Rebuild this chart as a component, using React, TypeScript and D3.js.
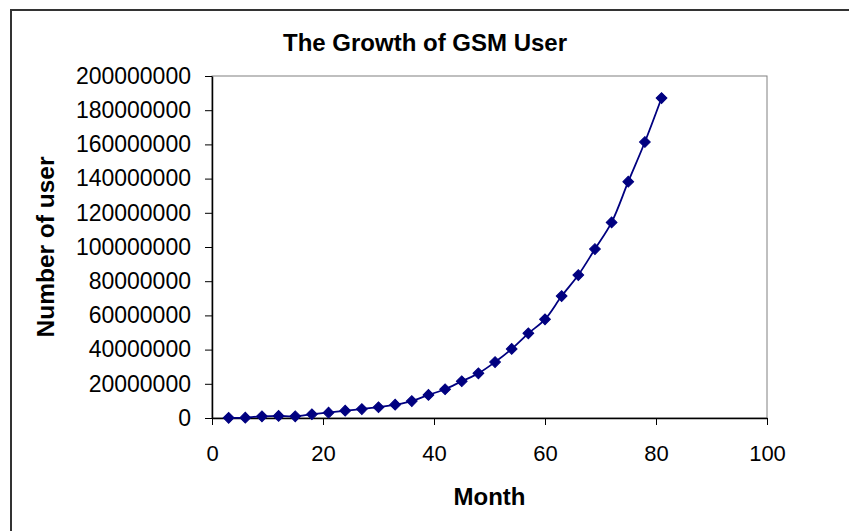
import React, { useEffect, useRef } from "react";
import * as d3 from "d3";

// Data (month -> number of GSM users)
const MONTHS = [3, 6, 9, 12, 15, 18, 21, 24, 27, 30, 33, 36, 39, 42, 45, 48, 51, 54, 57, 60, 63, 66, 69, 72, 75, 78, 81];
const USERS = [
  100000, 200000, 1000000, 1200000, 1000000, 2200000, 3100000, 4300000, 5200000,
  6300000, 7800000, 9900000, 13500000, 16800000, 21500000, 26100000, 32700000, 40400000,
  49500000, 57700000, 71300000, 83600000, 98800000, 114400000, 138200000, 161400000, 187100000,
];
const X_TICKS = [0, 20, 40, 60, 80, 100];
const Y_TICKS = [0, 20000000, 40000000, 60000000, 80000000, 100000000, 120000000, 140000000, 160000000, 180000000, 200000000];

const TITLE = "The Growth of GSM User";
const X_TITLE = "Month";
const Y_TITLE = "Number of user";

const WIDTH = 849;
const HEIGHT = 531;
const FONT = "Arial, 'Liberation Sans', sans-serif";
const NAVY = "#000080";

export default function App() {
  const svgRef = useRef<SVGSVGElement>(null);

  useEffect(() => {
    if (!svgRef.current) return;
    const svg = d3.select(svgRef.current);
    svg.selectAll("*").remove();

    const plot = { left: 212, right: 767, top: 76, bottom: 418 };

    const x = d3.scaleLinear().domain([0, 100]).range([plot.left, plot.right]);
    const y = d3.scaleLinear().domain([0, 200000000]).range([plot.bottom, plot.top]);

    // chart frame (right/bottom edges run off the picture)
    svg
      .append("rect")
      .attr("x", 11)
      .attr("y", 10)
      .attr("width", 900)
      .attr("height", 600)
      .attr("fill", "#fff")
      .attr("stroke", "#333")
      .attr("stroke-width", 2);

    // plot area border (grey)
    svg
      .append("rect")
      .attr("x", plot.left)
      .attr("y", plot.top)
      .attr("width", plot.right - plot.left)
      .attr("height", plot.bottom - plot.top)
      .attr("fill", "none")
      .attr("stroke", "#808080")
      .attr("stroke-width", 1);

    // axes
    const yAxis = d3
      .axisLeft(y)
      .tickValues(Y_TICKS)
      .tickSize(7)
      .tickSizeOuter(0)
      .tickPadding(14)
      .tickFormat(d3.format("d"));
    const xAxis = d3
      .axisBottom(x)
      .tickValues(X_TICKS)
      .tickSize(7)
      .tickSizeOuter(0)
      .tickPadding(20)
      .tickFormat(d3.format("d"));

    const gy = svg.append("g").attr("transform", `translate(${plot.left},0)`).call(yAxis);
    const gx = svg.append("g").attr("transform", `translate(0,${plot.bottom})`).call(xAxis);

    [gx, gy].forEach((g) => {
      g.select(".domain").attr("stroke", "#000").attr("stroke-width", 1.5);
      g.selectAll(".tick line").attr("stroke", "#000").attr("stroke-width", 1);
      g.selectAll(".tick text")
        .attr("fill", "#000")
        .attr("font-family", FONT);
    });
    gy.selectAll(".tick text").attr("font-size", 23);
    gx.selectAll(".tick text").attr("font-size", 22);

    // series line (smoothed like the original)
    const pts = MONTHS.map((m, i) => [m, USERS[i]] as [number, number]);
    const line = d3
      .line<[number, number]>()
      .x((d) => x(d[0]))
      .y((d) => y(d[1]))
      .curve(d3.curveCatmullRom.alpha(0.5));

    svg
      .append("path")
      .datum(pts)
      .attr("d", line)
      .attr("fill", "none")
      .attr("stroke", NAVY)
      .attr("stroke-width", 1.8);

    // diamond markers
    const diamond = d3.symbol().type(d3.symbolSquare).size(58);
    svg
      .append("g")
      .selectAll("path")
      .data(pts)
      .join("path")
      .attr("d", diamond)
      .attr("transform", (d) => `translate(${x(d[0])},${y(d[1])}) rotate(45)`)
      .attr("fill", NAVY)
      .attr("stroke", NAVY)
      .attr("stroke-width", 1);

    // titles
    svg
      .append("text")
      .attr("x", 425)
      .attr("y", 51)
      .attr("text-anchor", "middle")
      .attr("font-family", FONT)
      .attr("font-weight", "bold")
      .attr("font-size", 24)
      .text(TITLE);

    svg
      .append("text")
      .attr("x", (plot.left + plot.right) / 2)
      .attr("y", 505)
      .attr("text-anchor", "middle")
      .attr("font-family", FONT)
      .attr("font-weight", "bold")
      .attr("font-size", 24)
      .text(X_TITLE);

    svg
      .append("text")
      .attr("transform", `translate(54,${(plot.top + plot.bottom) / 2}) rotate(-90)`)
      .attr("text-anchor", "middle")
      .attr("font-family", FONT)
      .attr("font-weight", "bold")
      .attr("font-size", 24.5)
      .text(Y_TITLE);
  }, []);

  return (
    <svg
      ref={svgRef}
      width={WIDTH}
      height={HEIGHT}
      style={{ position: "absolute", left: 0, top: 0, background: "#fff", overflow: "hidden" }}
    />
  );
}
